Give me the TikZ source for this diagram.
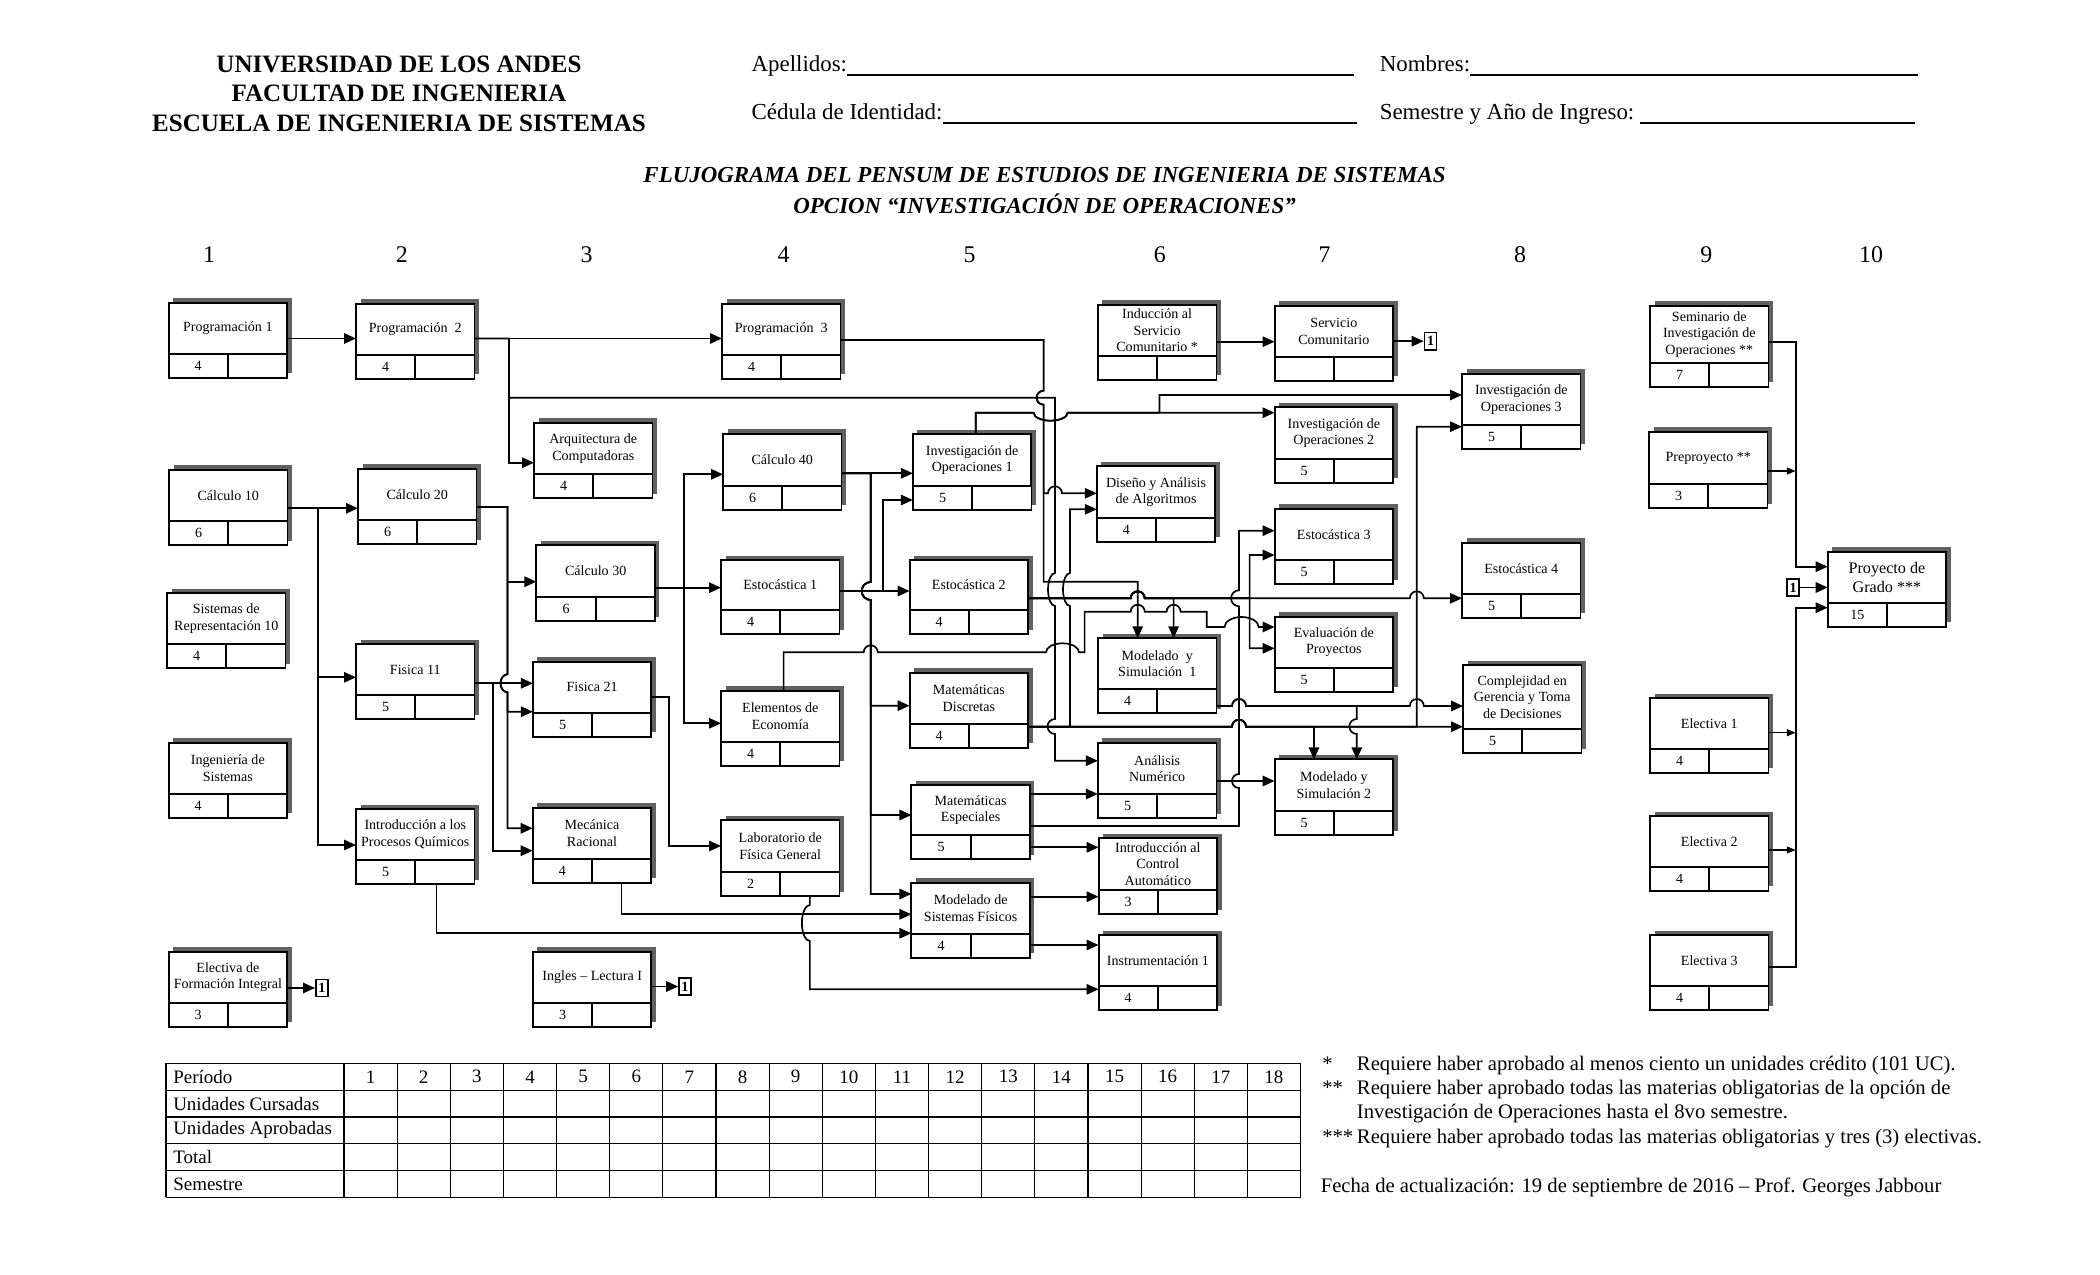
\documentclass[tikz,border=0pt]{standalone}
\usepackage{fontspec}
\setmainfont{Liberation Serif}
\usetikzlibrary{arrows.meta}

\tikzset{
  cursonode/.style={draw,fill=white,line width=1.3pt,minimum width=29.625mm,
    inner sep=0pt,outer sep=0pt,align=center,
    font=\fontsize{10}{11.8}\selectfont},
  crednode/.style={draw,fill=white,line width=1.3pt,minimum width=14.8125mm,
    minimum height=6mm,inner sep=0pt,outer sep=0pt,
    font=\fontsize{10}{11.8}\selectfont},
  shadowfill/.style={fill=black!62},
  linkbox/.style={draw,fill=white,line width=1.2pt,minimum width=3mm,
    minimum height=4.3mm,inner sep=0pt,font=\fontsize{10}{10}\selectfont\bfseries},
  edgeA/.style={line width=1.2pt,-{Triangle[length=3mm,width=2.6mm]}},
  edgeT/.style={line width=1.1pt,-{Triangle[length=2.2mm,width=1.7mm]}},
  headtxt/.style={font=\fontsize{17.8}{20}\selectfont\bfseries,inner sep=0pt},
  formtxt/.style={font=\fontsize{16.3}{18}\selectfont,anchor=base west,inner sep=0pt},
  titletxt/.style={font=\fontsize{16.3}{18}\selectfont\bfseries\itshape,inner sep=0pt},
  semtxt/.style={font=\fontsize{17}{18}\selectfont,inner sep=0pt},
  tabtxt/.style={font=\fontsize{13.5}{15}\selectfont,inner sep=0pt},
  notetxt/.style={font=\fontsize{14.7}{16}\selectfont,anchor=base west,inner sep=0pt},
  raya/.style={line width=0.8pt},
}

% #1 extra options, #2 name, #3 x, #4 top, #5 height, #6 text, #7 credits
\newcommand{\curso}[7][]{%
  \fill[shadowfill] (#3+4.5,#4-4.5) rectangle ++(118.5,#5);
  \node[cursonode,#1,minimum height={(#5-24)*0.25mm},anchor=north west] (#2) at (#3,#4) {#6};
  \node[crednode,anchor=north west] (#2-uc) at (#2.south west) {#7};
  \node[crednode,anchor=north east] (#2-nota) at (#2.south east) {};
}

\begin{document}
\begin{tikzpicture}[x=0.25mm,y=-0.25mm]
  \fill[white] (0,0) rectangle (2100,1275);
  \useasboundingbox (0,0) rectangle (2100,1275);

  % Encabezado
  \node[headtxt] (uni) at (399,64.3) {UNIVERSIDAD DE LOS ANDES};
  \node[headtxt] (fac) at (399,93.8) {FACULTAD DE INGENIERIA};
  \node[headtxt] (esc) at (399,123.2) {ESCUELA DE INGENIERIA DE SISTEMAS};
  \node[formtxt] (ape) at (751.3,72) {Apellidos:};
  \node[formtxt] (nom) at (1379.5,72) {Nombres:};
  \node[formtxt] (ced) at (751.3,120) {Cédula de Identidad:};
  \node[formtxt] (sem) at (1379.5,120) {Semestre y Año de Ingreso:};
  \draw[raya] (ape.base east |- 0,75) -- (1354,75);
  \draw[raya] (nom.base east |- 0,75) -- (1918,75);
  \draw[raya] (ced.base east |- 0,123) -- (1357,123);
  \draw[raya] (1640,123) -- (1915,123);
  \node[titletxt] (tit1) at (1044.6,175.5) {FLUJOGRAMA DEL PENSUM DE ESTUDIOS DE INGENIERIA DE SISTEMAS};
  \node[titletxt] (tit2) at (1044.6,203.6) {OPCION “INVESTIGACIÓN DE OPERACIONES”};

  % Semestres
  \node[semtxt] (s1) at (209,254.5) {1};
  \node[semtxt] (s2) at (401.8,254.5) {2};
  \node[semtxt] (s3) at (586.6,254.5) {3};
  \node[semtxt] (s4) at (783.5,254.5) {4};
  \node[semtxt] (s5) at (969.6,254.5) {5};
  \node[semtxt] (s6) at (1159.8,254.5) {6};
  \node[semtxt] (s7) at (1324.6,254.5) {7};
  \node[semtxt] (s8) at (1520,254.5) {8};
  \node[semtxt] (s9) at (1706.3,254.5) {9};
  \node[semtxt] (s10) at (1871,254.5) {10};

  % Materias
  \curso{prog1}{168.6}{303}{75}{Programación 1}{4}
  \curso{calc10}{169}{470}{75}{Cálculo 10}{6}
  \curso{sisrep}{167}{593}{75}{Sistemas de\\Representación 10}{4}
  \curso{ingsis}{168.6}{742.7}{75}{Ingeniería de\\Sistemas}{4}
  \curso{efi}{168.6}{951.7}{75}{Electiva de\\Formación Integral}{3}

  \curso{prog2}{356}{304}{75}{Programación\ \ 2}{4}
  \curso{calc20}{358}{469}{75}{Cálculo 20}{6}
  \curso{fis11}{356}{644}{75}{Fisica 11}{5}
  \curso{ipq}{356}{809}{75}{Introducción a los\\Procesos Químicos}{5}

  \curso{arq}{534}{422.7}{75.6}{Arquitectura de\\Computadoras}{4}
  \curso{calc30}{536.4}{545}{76}{Cálculo 30}{6}
  \curso{fis21}{532.9}{661.7}{75}{Fisica 21}{5}
  \curso{mec}{532.7}{807.7}{75}{Mecánica\\Racional}{4}
  \curso{ingles}{532.9}{951.7}{75}{Ingles – Lectura I}{3}

  \curso{prog3}{722}{304}{75}{Programación\ \ 3}{4}
  \curso{calc40}{723}{434}{76}{Cálculo 40}{6}
  \curso{est1}{721}{560}{74.3}{Estocástica 1}{4}
  \curso{econ}{721}{690.7}{75}{Elementos de\\Economía}{4}
  \curso{lab}{721}{820}{76}{Laboratorio de\\Física General}{2}

  \curso{io1}{912.9}{434.3}{75.7}{Investigación de\\Operaciones 1}{5}
  \curso{est2}{909.6}{560}{74.3}{Estocástica 2}{4}
  \curso{mdisc}{909.6}{672.7}{75}{Matemáticas\\Discretas}{4}
  \curso{mesp}{911.4}{785}{74.3}{Matemáticas\\Especiales}{5}
  \curso{msf}{911.4}{882.7}{75}{Modelado de\\Sistemas Físicos}{4}

  \curso{induc}{1097.9}{305}{75}{Inducción al\\Servicio\\Comunitario *}{}
  \curso{diseno}{1096.8}{466.3}{75.4}{Diseño y Análisis\\de Algoritmos}{4}
  \curso{mys1}{1098}{638.3}{75}{Modelado\ \ y\\Simulación\ \ 1}{4}
  \curso{anum}{1097.9}{742.7}{75.6}{Análisis\\Numérico}{5}
  \curso{icontrol}{1098.6}{838.3}{75.7}{Introducción al\\Control\\Automático}{3}
  \curso{instr}{1098.6}{935}{75}{Instrumentación 1}{4}

  \curso{servicio}{1274.6}{306}{75}{Servicio\\Comunitario}{}
  \curso{io2}{1274.6}{407.3}{75.4}{Investigación de\\Operaciones 2}{5}
  \curso{est3}{1274.6}{509}{75}{Estocástica 3}{5}
  \curso{eval}{1274.6}{616.7}{75}{Evaluación de\\Proyectos}{5}
  \curso{mys2}{1274.6}{759.3}{75.7}{Modelado y\\Simulación 2}{5}

  \curso{io3}{1462}{374}{75}{Investigación de\\Operaciones 3}{5}
  \curso{est4}{1462}{542.7}{75}{Estocástica 4}{5}
  \curso{compl}{1463}{665}{88}{Complejidad en\\Gerencia y Toma\\de Decisiones}{5}

  \curso{seminario}{1650}{306}{80.7}{Seminario de\\Investigación de\\Operaciones **}{7}
  \curso{preproy}{1649}{431.7}{76.6}{Preproyecto **}{3}
  \curso{elec1}{1650}{698.3}{74.4}{Electiva 1}{4}
  \curso{elec2}{1650}{816}{74.7}{Electiva 2}{4}
  \curso{elec3}{1650}{935}{75}{Electiva 3}{4}

  \curso[font=\fontsize{11.5}{13.5}\selectfont]{proyecto}{1827.7}{551.7}{75}{Proyecto de\\Grado ***}{15}

  % Conectores "1"
  \node[linkbox] (uno1) at (1430.5,341.2) {1};
  \node[linkbox] (uno2) at (321.9,988) {1};
  \node[linkbox] (uno3) at (685,986.5) {1};
  \node[linkbox] (uno4) at (1793,587.5) {1};

  % Prelaciones semestre 1
  \draw[edgeA] (prog1.east |- 0,338.5) -- (prog2.west |- 0,338.5);
  \draw[edgeA] (calc10.east |- 0,508.3) -- (calc20.west |- 0,508.3);
  \draw[edgeA] (calc10.east |- 0,508.3) -- (317.9,508.3) -- (317.9,677.3) -- (fis11.west |- 0,677.3);
  \draw[edgeA] (calc10.east |- 0,508.3) -- (317.9,508.3) -- (317.9,845) -- (ipq.west |- 0,845);
  \draw[edgeA] (efi.east |- 0,988) -- (uno2.west);

  % Prelaciones semestre 2
  \draw[edgeA] (prog2.east |- 0,338.5) -- (prog3.west |- 0,338.5);
  \draw[edgeA] (prog2.east |- 0,338.5) -- (509,338.5) -- (509,462.7) -- (arq.west |- 0,462.7);
  \draw[edgeA] (prog2.east |- 0,338.5) -- (509,338.5) -- (509,397.7) -- (1055,397.7)
    -- (1055,573) arc[start angle=270,end angle=90,x radius=7,y radius=16.5]
    -- (1055,719) arc[start angle=270,end angle=90,radius=7.5]
    -- (1055,760.7) -- (anum.west |- 0,760.7);
  \draw[edgeA] (calc20.east |- 0,507) -- (507.5,507) -- (507.5,581.7) -- (calc30.west |- 0,581.7);
  \draw[edgeA] (calc20.east |- 0,507) -- (507.5,507) -- (507.5,674.3)
    arc[start angle=270,end angle=90,x radius=7,y radius=9] -- (507.5,711.7) -- (fis21.west |- 0,711.7);
  \draw[edgeA] (calc20.east |- 0,507) -- (507.5,507) -- (507.5,674.3)
    arc[start angle=270,end angle=90,x radius=7,y radius=9] -- (507.5,828.3) -- (mec.west |- 0,828.3);
  \draw[edgeA] (fis11.east |- 0,683.3) -- (fis21.west |- 0,683.3);
  \draw[edgeA] (fis11.east |- 0,683.3) -- (493.3,683.3) -- (493.3,850.7) -- (mec.west |- 0,850.7);
  \draw[edgeA] (436.4,0 |- ipq-nota.south) -- (436.4,933.3) -- (msf.west |- 0,933.3);

  % Prelaciones semestre 3
  \draw[edgeA] (calc30.east |- 0,587.7) -- (est1.west |- 0,587.7);
  \draw[edgeA] (calc30.east |- 0,587.7) -- (684,587.7) -- (684,474.3) -- (calc40.west |- 0,474.3);
  \draw[edgeA] (calc30.east |- 0,587.7) -- (684,587.7) -- (684,723.3) -- (econ.west |- 0,723.3);
  \draw[edgeA] (fis21.east |- 0,697.3) -- (669,697.3) -- (669,846) -- (lab.west |- 0,846);
  \draw[edgeA] (mec-nota.south) -- (mec-nota.south |- 0,914.3) -- (msf.west |- 0,914.3);
  \draw[edgeA] (ingles.east |- 0,986.5) -- (uno3.west);

  % Prelaciones semestre 4
  \draw[edgeA] (prog3.east |- 0,340) -- (1043.6,340) -- (1043.6,390.7)
    arc[start angle=270,end angle=90,radius=7] -- (1043.6,493.3) -- (1048,493.3)
    arc[start angle=180,end angle=360,radius=7] -- (diseno.west |- 0,493.3);
  \draw[edgeA] (prog3.east |- 0,340) -- (1043.6,340) -- (1043.6,390.7)
    arc[start angle=270,end angle=90,radius=7] -- (1043.6,581.7) -- (1137.7,581.7)
    -- (1137.7,0 |- mys1.north);
  \draw[edgeA] (calc40.east |- 0,473.3) -- (io1.west |- 0,473.3);
  \draw[edgeA] (calc40.east |- 0,473.3) -- (870.7,473.3) -- (870.7,582)
    arc[start angle=270,end angle=90,radius=9] -- (870.7,705.7) -- (mdisc.west |- 0,705.7);
  \draw[edgeA] (calc40.east |- 0,473.3) -- (870.7,473.3) -- (870.7,582)
    arc[start angle=270,end angle=90,radius=9] -- (870.7,815) -- (mesp.west |- 0,815);
  \draw[edgeA] (calc40.east |- 0,473.3) -- (870.7,473.3) -- (870.7,582)
    arc[start angle=270,end angle=90,radius=9] -- (870.7,894) -- (msf.west |- 0,894);
  \draw[edgeA] (est1.east |- 0,591) -- (est2.west |- 0,591);
  \draw[edgeA] (est1.east |- 0,591) -- (882.7,591) -- (882.7,500) -- (io1.west |- 0,500);
  \draw[edgeA] (783.6,0 |- econ.north) -- (783.6,652.3) -- (863.7,652.3)
    arc[start angle=180,end angle=360,radius=7] -- (1046,652.3)
    arc[start angle=180,end angle=360,x radius=16.5,y radius=9] -- (1084.6,652.3)
    -- (1084.6,611.7) -- (1130.7,611.7) arc[start angle=180,end angle=360,radius=7]
    -- (1166.6,611.7) arc[start angle=180,end angle=360,radius=7]
    -- (1206.8,611.7) -- (1206.8,627) -- (1224.6,627)
    arc[start angle=180,end angle=360,x radius=17,y radius=10] -- (eval.west |- 0,627);
  \draw[edgeA] (lab-nota.south) -- (lab-nota.south |- 0,905)
    arc[start angle=270,end angle=90,x radius=8,y radius=18]
    -- (lab-nota.south |- 0,989.3) -- (instr.west |- 0,989.3);

  % Prelaciones semestre 5
  \draw[edgeA] (975.7,0 |- io1.north) -- (975.7,412.7) -- (1033.6,412.7)
    arc[start angle=180,end angle=0,x radius=17,y radius=8] -- (io2.west |- 0,412.7);
  \draw[edgeA] (975.7,0 |- io1.north) -- (975.7,412.7) -- (1033.6,412.7)
    arc[start angle=180,end angle=0,x radius=17,y radius=8] -- (1159.5,412.7)
    -- (1159.5,395) -- (io3.west |- 0,395);
  \draw[edgeA] (est2.east |- 0,598.3) -- (1130.7,598.3)
    arc[start angle=180,end angle=360,radius=7] -- (1173.6,598.3) -- (1173.6,0 |- mys1.north);
  \draw[edgeA] (est2.east |- 0,598.3) -- (1130.7,598.3)
    arc[start angle=180,end angle=360,radius=7] -- (1249.6,598.3) -- (1249.6,555) -- (est3.west |- 0,555);
  \draw[edgeA] (est2.east |- 0,598.3) -- (1130.7,598.3)
    arc[start angle=180,end angle=360,radius=7] -- (1249.6,598.3) -- (1249.6,648.3) -- (eval.west |- 0,648.3);
  \draw[edgeA] (est2.east |- 0,598.3) -- (1130.7,598.3)
    arc[start angle=180,end angle=360,radius=7] -- (1409.8,598.3)
    arc[start angle=180,end angle=360,radius=7] -- (est4.west |- 0,598.3);
  \draw[edgeA] (mdisc.east |- 0,726.7) -- (1070,726.7) -- (1070,606)
    arc[start angle=90,end angle=270,x radius=7,y radius=16.5] -- (1070,509.3) -- (diseno.west |- 0,509.3);
  \draw[edgeA] (mdisc.east |- 0,726.7) -- (1232,726.7)
    arc[start angle=180,end angle=360,radius=7] -- (1314,726.7) -- (1314,0 |- mys2.north);
  \draw[edgeA] (mdisc.east |- 0,726.7) -- (1232,726.7)
    arc[start angle=180,end angle=360,radius=7] -- (1416.8,726.7) -- (1416.8,426.7) -- (io3.west |- 0,426.7);
  \draw[edgeA] (mdisc.east |- 0,726.7) -- (1232,726.7)
    arc[start angle=180,end angle=360,radius=7] -- (compl.west |- 0,726.7);
  \draw[edgeA] (mesp.east |- 0,794) -- (anum.west |- 0,794);
  \draw[edgeA] (mesp.east |- 0,847.3) -- (icontrol.west |- 0,847.3);
  \draw[edgeA] (mesp.east |- 0,826) -- (1239,826) -- (1239,788)
    arc[start angle=90,end angle=270,radius=7] -- (1239,606.3)
    arc[start angle=90,end angle=270,radius=8] -- (1239,530.7) -- (est3.west |- 0,530.7);
  \draw[edgeA] (msf.east |- 0,896.7) -- (icontrol.west |- 0,896.7);
  \draw[edgeA] (msf.east |- 0,945) -- (instr.west |- 0,945);

  % Prelaciones semestre 6
  \draw[edgeA] (induc.east |- 0,341.7) -- (servicio.west |- 0,341.7);
  \draw[edgeA] (mys1.east |- 0,706) -- (1232,706)
    arc[start angle=180,end angle=360,radius=7] -- (1356.8,706) -- (1356.8,719)
    arc[start angle=270,end angle=90,radius=7.5] -- (1356.8,0 |- mys2.north);
  \draw[edgeA] (mys1.east |- 0,706) -- (1232,706)
    arc[start angle=180,end angle=360,radius=7] -- (1409.8,706)
    arc[start angle=180,end angle=360,radius=7] -- (compl.west |- 0,706);
  \draw[edgeA] (anum.east |- 0,781) -- (mys2.west |- 0,781);

  % Prelaciones semestre 7
  \draw[edgeA] (servicio.east |- 0,341.2) -- (uno1.west);

  % Proyecto de grado
  \draw[edgeA] (seminario.east |- 0,341.7) -- (1795.7,341.7) -- (1795.7,566.7) -- (proyecto.west |- 0,566.7);
  \draw[edgeT] (preproy.east |- 0,471) -- (1795.7,471);
  \draw[edgeT] (elec1.east |- 0,732.7) -- (1795.7,732.7);
  \draw[edgeT] (elec2.east |- 0,850) -- (1795.7,850);
  \draw[edgeA] (elec3.east |- 0,967.3) -- (1795.7,967.3) -- (1795.7,607.7) -- (proyecto.west |- 0,607.7);
  \draw[edgeA] (uno4.east) -- (proyecto.west |- uno4.east);

  % Tabla de periodos
  \foreach \k in {0,...,5}
    \draw[raya] (166,{1063.4+\k*26.78}) -- (1300.5,{1063.4+\k*26.78});
  \draw[raya] (166,1063.4) -- (166,1197.3);
  \foreach \j in {0,...,18}
    \draw[raya] ({344+\j*53.14},1063.4) -- ({344+\j*53.14},1197.3);
  \node[tabtxt,anchor=west] (fila1) at (173,1076.8) {Período};
  \node[tabtxt,anchor=west] (fila2) at (173,1103.6) {Unidades Cursadas};
  \node[tabtxt,anchor=west] (fila3) at (173,1130.4) {Unidades Aprobadas};
  \node[tabtxt,anchor=west] (fila4) at (173,1157.1) {Total};
  \node[tabtxt,anchor=west] (fila5) at (173,1183.9) {Semestre};
  \foreach \j in {1,...,18}
    \node[tabtxt] (per\j) at ({344+(\j-0.5)*53.14},1076.8) {\j};

  % Notas
  \node[notetxt] (m1) at (1322,1070) {*};
  \node[notetxt] (n1) at (1356.7,1070) {Requiere haber aprobado al menos ciento un unidades crédito (101 UC).};
  \node[notetxt] (m2) at (1322,1094) {**};
  \node[notetxt] (n2) at (1356.7,1094) {Requiere haber aprobado todas las materias obligatorias de la opción de};
  \node[notetxt] (n2b) at (1356.7,1118) {Investigación de Operaciones hasta el 8vo semestre.};
  \node[notetxt] (m3) at (1322,1143.5) {***};
  \node[notetxt] (n3) at (1356.7,1143.5) {Requiere haber aprobado todas las materias obligatorias y tres (3) electivas.};
  \node[notetxt] (fecha) at (1320.5,1192) {Fecha de actualización: 19 de septiembre de 2016 – Prof. Georges Jabbour};
\end{tikzpicture}
\end{document}
